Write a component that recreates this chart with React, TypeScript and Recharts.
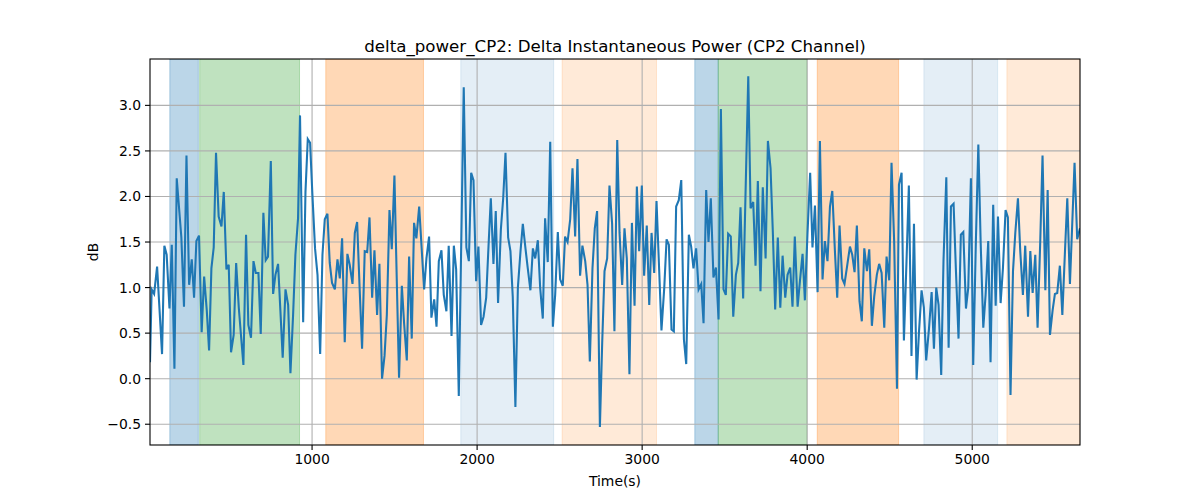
import React from 'react';
import { LineChart, Line, XAxis, YAxis, ReferenceArea, ReferenceLine } from 'recharts';

// Time (s) of each sample
const TIME = [
  18, 28, 43, 61, 91, 105, 119, 136, 150, 166, 180, 208, 224, 239, 255, 271, 285, 299, 315, 331,
  346, 362, 376, 390, 404, 418, 434, 451, 465, 481, 495, 509, 525, 540, 556, 570, 584, 600, 614, 630,
  645, 659, 675, 689, 705, 719, 733, 750, 764, 778, 794, 808, 822, 839, 855, 869, 885, 899, 915, 927,
  946, 960, 974, 988, 1002, 1018, 1033, 1049, 1063, 1077, 1093, 1107, 1121, 1138, 1154, 1168, 1182, 1198, 1214, 1228,
  1245, 1259, 1273, 1288, 1303, 1319, 1334, 1348, 1364, 1378, 1394, 1408, 1424, 1439, 1453, 1469, 1483, 1499, 1513, 1527,
  1544, 1558, 1574, 1588, 1604, 1618, 1632, 1649, 1665, 1679, 1693, 1709, 1723, 1740, 1754, 1768, 1784, 1798, 1814, 1828,
  1845, 1859, 1873, 1889,
  1904, 1919, 1935, 1950, 1964, 1978, 1994, 2008, 2024, 2039, 2055, 2069, 2083, 2099, 2113, 2127, 2144, 2158, 2172, 2188,
  2202, 2216, 2232, 2247, 2263, 2277, 2293, 2307, 2323, 2338, 2352, 2368, 2382, 2398, 2412, 2428, 2443, 2459, 2473, 2489,
  2503, 2519, 2533, 2548, 2564, 2578, 2594, 2608, 2624, 2638, 2655, 2669, 2683, 2699, 2713, 2727, 2744, 2758, 2772, 2788,
  2802, 2818, 2832,
  2849, 2863, 2879, 2893, 2907, 2923, 2938, 2954, 2968, 2982, 2998, 3012, 3028, 3043, 3057, 3073, 3087, 3103, 3117, 3134,
  3148, 3162, 3178, 3192, 3206, 3222, 3237, 3253, 3267, 3283, 3297, 3311, 3327, 3342, 3358, 3372, 3388, 3402, 3416, 3432,
  3447, 3463, 3477, 3493, 3507, 3521, 3537, 3552, 3568, 3582, 3596, 3612, 3626, 3643, 3657, 3673, 3687, 3701, 3717, 3731,
  3748, 3762,
  3778, 3792, 3806, 3822, 3837, 3851, 3867, 3881, 3897, 3911, 3925, 3942, 3956, 3972, 3986, 4002, 4018, 4032, 4047, 4063,
  4077, 4093, 4107, 4123, 4138, 4152, 4168, 4182, 4196, 4212, 4226, 4243, 4259, 4273, 4287, 4301, 4317, 4331, 4346, 4362,
  4376, 4392, 4406, 4422, 4436, 4451, 4467, 4481, 4497, 4511, 4527, 4544, 4556, 4572, 4586, 4602, 4616, 4632, 4647, 4663,
  4677, 4693, 4707,
  4721, 4738, 4754, 4768, 4782, 4796, 4812, 4826, 4843, 4857, 4871, 4887, 4901, 4917, 4931, 4946, 4962, 4976, 4992, 5006,
  5022, 5037, 5051, 5067, 5081, 5097, 5111, 5127, 5142, 5156, 5172, 5186, 5202, 5216, 5232, 5247, 5261, 5277, 5291, 5307,
  5321, 5338, 5352, 5366, 5382, 5396, 5412, 5426, 5443, 5457, 5471, 5487, 5501, 5515, 5531, 5546, 5562, 5576, 5592, 5606,
  5620, 5636, 5653,
];

// Delta instantaneous power (dB) at each sample
const DB = [
  0.18, 0.98, 0.93, 1.23, 0.27, 1.46, 1.36, 0.77, 1.47, 0.11, 2.2, 1.55, 0.79, 2.45, 1.03, 1.31, 0.89, 1.51, 1.57, 0.51,
  1.12, 0.75, 0.31, 1.21, 1.44, 2.48, 1.78, 1.67, 2.05, 1.2, 1.25, 0.29, 0.48, 1.27, 0.78, 0.46, 0.15, 1.58, 0.59, 0.45,
  1.29, 1.16, 1.16, 0.49, 1.82, 1.3, 1.34, 2.39, 0.93, 1.14, 1.26, 0.75, 0.23, 0.98, 0.81, 0.06, 0.7, 1.36, 1.76, 2.89,
  0.62, 2.05, 2.63, 2.59, 2.02, 1.43, 1.14, 0.27, 1.36, 1.75, 1.81, 1.27, 1.05, 0.98, 1.31, 1.1, 1.54, 0.4, 1.37, 1.25,
  1.04, 1.6, 1.72, 1.0, 0.33, 1.4, 1.39, 1.77, 0.89, 1.41, 0.7, 1.26, 0.0, 0.25, 0.7, 1.85, 1.42, 2.23, 1.1, 0.01,
  1.02, 0.6, 0.2, 1.34, 0.44, 1.71, 1.54, 1.89, 1.4, 0.98, 1.32, 1.56, 0.67, 0.87, 0.57, 1.29, 1.41, 0.92, 0.74, 1.46,
  0.47, 1.46, 1.2, -0.19,
  1.5, 3.2, 1.44, 1.29, 2.26, 2.18, 1.07, 1.45, 0.59, 0.68, 0.89, 1.45, 1.98, 1.26, 1.84, 0.83, 1.64, 1.98, 2.48, 1.55,
  1.4, 0.9, -0.31, 1.0, 1.4, 1.7, 1.43, 1.21, 0.97, 1.43, 1.32, 1.52, 1.0, 0.66, 1.76, 1.28, 2.6, 0.57, 0.92, 1.61,
  1.09, 1.02, 1.56, 1.5, 1.75, 2.31, 1.56, 2.41, 1.13, 1.46, 1.29, 1.03, 0.19, 1.21, 1.65, 1.84, -0.53, 0.4, 1.18, 1.32,
  2.12, 1.7, 0.52,
  2.62, 1.6, 1.03, 1.65, 1.32, 0.05, 1.71, 0.8, 2.11, 1.4, 2.12, 1.13, 1.68, 0.81, 1.6, 1.16, 1.95, 1.2, 0.53, 1.0,
  1.53, 1.47, 0.54, 0.52, 1.89, 1.96, 2.18, 0.43, 0.16, 1.58, 1.45, 1.21, 1.43, 0.98, 1.04, 0.61, 2.07, 1.5, 1.98, 1.11,
  1.22, 0.65, 2.96, 0.98, 0.92, 1.59, 1.56, 0.68, 1.14, 1.27, 1.88, 0.88, 2.0, 3.32, 1.87, 1.94, 1.24, 2.17, 0.96, 2.1,
  1.32, 2.61,
  2.31, 1.6, 0.76, 1.55, 0.78, 1.35, 0.89, 1.14, 1.22, 0.79, 1.56, 0.79, 1.07, 1.37, 0.86, 1.6, 2.26, 1.44, 1.9, 0.95,
  2.61, 1.09, 1.51, 1.29, 1.89, 2.06, 1.4, 0.89, 1.68, 1.1, 1.04, 1.25, 1.45, 1.36, 1.17, 1.68, 0.85, 0.63, 1.43, 1.18,
  1.42, 0.58, 0.9, 1.14, 1.26, 1.16, 0.56, 1.34, 1.08, 2.37, 1.5, -0.11, 2.13, 2.26, 0.42, 1.3, 2.12, 0.25, 1.7, -0.01,
  0.5, 0.97, 0.78,
  0.2, 0.55, 0.95, 0.33, 1.0, 0.81, 0.04, 1.3, 2.21, 0.34, 1.89, 1.92, 1.2, 0.44, 1.58, 1.61, 0.77, 1.0, 2.2, 0.15,
  1.5, 2.57, 1.5, 0.56, 0.92, 1.51, 0.18, 1.91, 0.8, 1.78, 0.83, 1.21, 1.85, 1.77, -0.18, 1.18, 1.6, 1.98, 1.4, 0.92,
  1.46, 0.68, 1.4, 0.94, 1.36, 0.56, 1.5, 2.45, 0.97, 2.07, 0.48, 0.75, 0.93, 0.94, 1.24, 0.7, 1.4, 1.98, 1.04, 1.7,
  2.37, 1.53, 1.65,
];

// Shaded time spans
const SPAN_START = [138, 319, 1083, 1901, 2515, 3319, 3461, 4061, 4707, 5210];
const SPAN_END = [311, 924, 1675, 2464, 3087, 3461, 3998, 4554, 5154, 5653];
const SPAN_COLOR = ['#1f77b4', '#2ca02c', '#ff7f0e', '#1f77b4', '#ff7f0e', '#1f77b4', '#2ca02c', '#ff7f0e', '#1f77b4', '#ff7f0e'];
const SPAN_ALPHA = [0.3, 0.3, 0.3, 0.12, 0.16, 0.3, 0.3, 0.3, 0.12, 0.16];

const X_TICKS = [1000, 2000, 3000, 4000, 5000];
const Y_TICKS = [-0.5, 0, 0.5, 1, 1.5, 2, 2.5, 3];
const X_DOMAIN = [18, 5653];
const Y_DOMAIN = [-0.728, 3.509];

const TITLE = 'delta_power_CP2: Delta Instantaneous Power (CP2 Channel)';
const X_LABEL = 'Time(s)';
const Y_LABEL = 'dB';

const FONT = 'DejaVu Sans, sans-serif';
const GRID = '#b0b0b0';

const data = TIME.map((t, i) => ({ t, v: DB[i] }));

const fmtY = (v: number) => v.toFixed(1).replace('-', '\u2212');

export default function App() {
  return (
    <div style={{ position: 'absolute', left: 0, top: 0, width: 1200, height: 500, background: '#fff' }}>
      <LineChart
        width={1200}
        height={500}
        data={data}
        margin={{ top: 59, right: 120, bottom: 5, left: 100 }}
      >
        <XAxis
          dataKey="t"
          type="number"
          domain={X_DOMAIN}
          ticks={X_TICKS}
          allowDataOverflow
          height={50}
          axisLine={false}
          tickLine={{ stroke: '#000', strokeWidth: 1.1 }}
          tickSize={5}
          tickMargin={4}
          interval={0}
          tick={{ fill: '#000', fontSize: 13.9, fontFamily: FONT }}
        />
        <YAxis
          type="number"
          domain={Y_DOMAIN}
          ticks={Y_TICKS}
          allowDataOverflow
          width={50}
          axisLine={false}
          tickLine={{ stroke: '#000', strokeWidth: 1.1 }}
          tickSize={5}
          tickMargin={4}
          interval={0}
          tickFormatter={fmtY}
          tick={{ fill: '#000', fontSize: 13.9, fontFamily: FONT }}
        />
        {SPAN_START.map((s, i) => (
          <ReferenceArea
            key={'span' + i}
            x1={s}
            x2={SPAN_END[i]}
            fill={SPAN_COLOR[i]}
            fillOpacity={SPAN_ALPHA[i]}
            stroke={SPAN_COLOR[i]}
            strokeOpacity={SPAN_ALPHA[i]}
            strokeWidth={1}
            ifOverflow="hidden"
            zIndex={10}
          />
        ))}
        {X_TICKS.map((x) => (
          <ReferenceLine key={'gx' + x} x={x} stroke={GRID} strokeWidth={1.1} zIndex={20} />
        ))}
        {Y_TICKS.map((y) => (
          <ReferenceLine key={'gy' + y} y={y} stroke={GRID} strokeWidth={1.1} zIndex={20} />
        ))}
        <Line
          type="linear"
          dataKey="v"
          stroke="#1f77b4"
          strokeWidth={2.08}
          dot={false}
          activeDot={false}
          isAnimationActive={false}
          zIndex={400}
        />
      </LineChart>
      <svg
        width={1200}
        height={500}
        style={{ position: 'absolute', left: 0, top: 0, pointerEvents: 'none' }}
      >
        <rect x={150} y={59} width={930} height={386} fill="none" stroke="#000" strokeWidth={1.1} />
        <text x={615} y={52} textAnchor="middle" fontFamily={FONT} fontSize={16.67} fill="#000">
          {TITLE}
        </text>
        <text x={615} y={486} textAnchor="middle" fontFamily={FONT} fontSize={13.9} fill="#000">
          {X_LABEL}
        </text>
        <text
          transform="translate(98, 252) rotate(-90)"
          textAnchor="middle"
          fontFamily={FONT}
          fontSize={13.9}
          fill="#000"
        >
          {Y_LABEL}
        </text>
      </svg>
    </div>
  );
}
